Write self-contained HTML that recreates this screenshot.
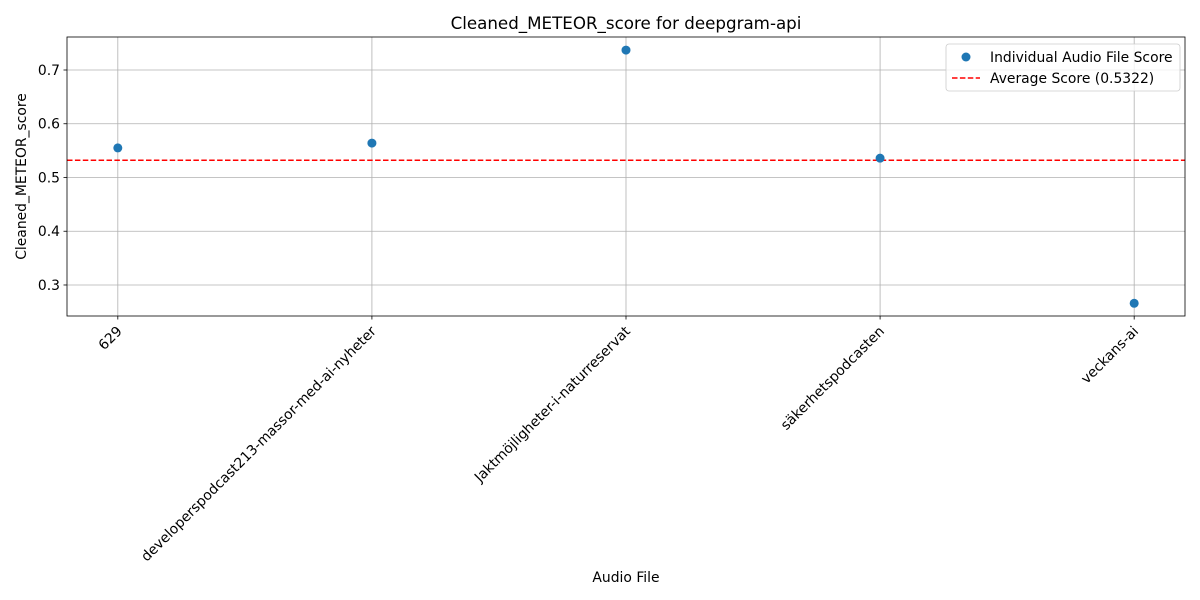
<!DOCTYPE html>
<html><head><meta charset="utf-8">
<style>
html,body{margin:0;padding:0;background:#fff;}
svg{display:block;font-family:"DejaVu Sans","Liberation Sans",sans-serif;}
</style></head>
<body>
<svg id="chart" width="1200" height="600" viewBox="0 0 1200 600"></svg>
<script>
const categories = ["629","developerspodcast213-massor-med-ai-nyheter","Jaktmöjligheter-i-naturreservat","säkerhetspodcasten","veckans-ai"];
const scores = [0.555, 0.564, 0.737, 0.536, 0.266];
const averageScore = 0.5322;
const yTicks = [0.3, 0.4, 0.5, 0.6, 0.7];
const yTickLabels = ["0.3","0.4","0.5","0.6","0.7"];

const FS=13.9;
const L=67,R=1185,T=37,B=316;
const yMin=0.2423,yMax=0.7614;
const xMin=-0.2,xMax=categories.length-1+0.2;
const xs=i=>L+(i-xMin)/(xMax-xMin)*(R-L);
const ys=v=>B-(v-yMin)/(yMax-yMin)*(B-T);
const NS="http://www.w3.org/2000/svg";
const svg=document.getElementById('chart');
function mk(tag,attrs,parent){const e=document.createElementNS(NS,tag);for(const k in attrs)e.setAttribute(k,attrs[k]);(parent||svg).appendChild(e);return e;}

const grid=mk('g',{});


categories.forEach((c,i)=>{const l=mk('line',{x1:xs(i),x2:xs(i),y1:T,y2:B,stroke:'#b0b0b0','stroke-width':0.8},grid);

});
yTicks.forEach(v=>{const l=mk('line',{x1:L,x2:R,y1:ys(v),y2:ys(v),stroke:'#b0b0b0','stroke-width':0.8},grid);

});

const avg=mk('line',{x1:L,x2:R,y1:ys(averageScore),y2:ys(averageScore),stroke:'red','stroke-width':1.5,'stroke-dasharray':'5.5,2.4'});



scores.forEach((v,i)=>{const c=mk('circle',{cx:xs(i),cy:ys(v),r:4.5,fill:'#1f77b4'});

});

const fr=mk('rect',{x:L,y:T,width:R-L,height:B-T,fill:'none',stroke:'#000','stroke-width':0.8});



yTicks.forEach((v,i)=>{mk('line',{x1:L-3.5,x2:L,y1:ys(v),y2:ys(v),stroke:'#000','stroke-width':0.8});
const t=mk('text',{x:L-7,y:ys(v)+5,'text-anchor':'end','font-size':FS,fill:'#000'});t.textContent=yTickLabels[i];

});

categories.forEach((c,i)=>{const x=xs(i);mk('line',{x1:x,x2:x,y1:B,y2:B+3.5,stroke:'#000','stroke-width':0.8});
const ax=x+5, ay=B+16;
const t=mk('text',{x:ax,y:ay,'text-anchor':'end','font-size':FS,fill:'#000',transform:`rotate(-45 ${ax} ${ay})`});t.textContent=c;

});

let t=mk('text',{x:(L+R)/2,y:29,'text-anchor':'middle','font-size':16.7});t.textContent='Cleaned_METEOR_score for deepgram-api';


t=mk('text',{x:626,y:582,'text-anchor':'middle','font-size':FS});t.textContent='Audio File';


t=mk('text',{x:26,y:(T+B)/2,'text-anchor':'middle','font-size':FS,transform:`rotate(-90 26 ${(T+B)/2})`});t.textContent='Cleaned_METEOR_score';



const lg=mk('g',{});


mk('rect',{x:946,y:44,width:234,height:47,rx:3,fill:'#fff','fill-opacity':0.8,stroke:'#ccc','stroke-width':0.8},lg);
mk('circle',{cx:966,cy:57,r:4.5,fill:'#1f77b4'},lg);
t=mk('text',{x:990,y:62,'font-size':FS},lg);t.textContent='Individual Audio File Score';


mk('line',{x1:952,x2:980,y1:78,y2:78,stroke:'red','stroke-width':1.5,'stroke-dasharray':'5.5,2.4'},lg);
t=mk('text',{x:990,y:83,'font-size':FS},lg);t.textContent='Average Score ('+averageScore.toFixed(4)+')';


</script>
</body></html>
